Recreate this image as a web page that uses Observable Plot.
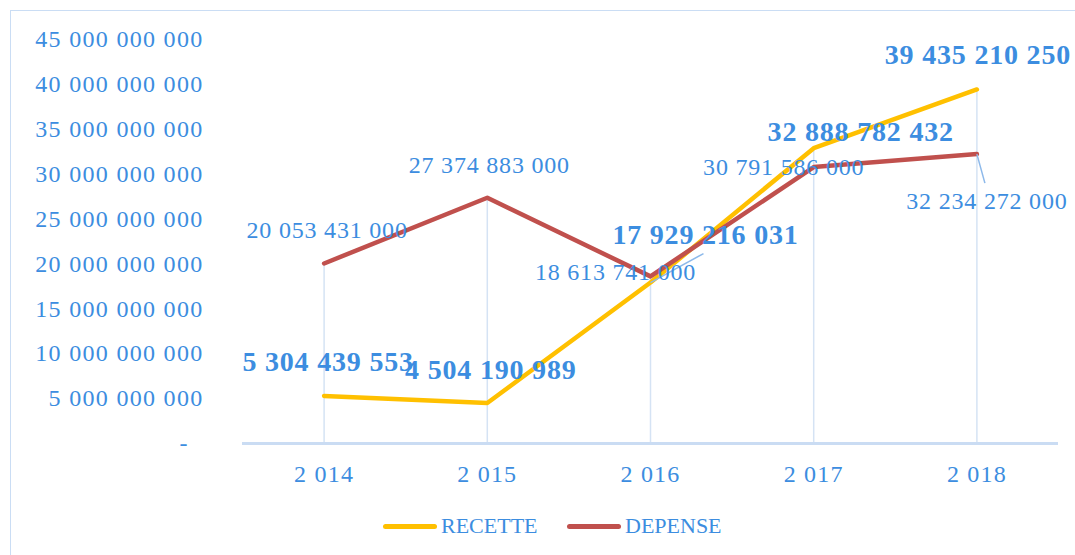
<!DOCTYPE html>
<html>
<head>
<meta charset="utf-8">
<script src="https://cdn.jsdelivr.net/npm/d3@7"></script>
<script src="https://cdn.jsdelivr.net/npm/@observablehq/plot@0.6"></script>
<style>
  html, body { margin: 0; padding: 0; background: #fff; }
  body { width: 1075px; height: 555px; overflow: hidden; position: relative; font-family: "Liberation Serif", serif; }
  #frame { position: absolute; left: 10px; top: 10px; width: 1200px; height: 700px; border: 1.5px solid #CADDF4; box-sizing: border-box; }
  #chart { position: absolute; left: 0; top: 0; }
  #legend { position: absolute; left: 0; top: 512px; width: 1075px; height: 28px; }
  .item { position: absolute; top: 0; height: 28px; display: flex; align-items: center; font-size: 22px; color: #3C8DE0; }
  .sw { width: 54px; height: 5px; border-radius: 3px; margin-right: 4px; }
</style>
</head>
<body>
<div id="frame"></div>
<div id="chart"></div>
<div id="legend"></div>
<script>
// ---- data ----
const years = [2014, 2015, 2016, 2017, 2018];
const recette = [5304439553, 4504190989, 17929216031, 32888782432, 39435210250];
const depense = [20053431000, 27374883000, 18613741000, 30791586000, 32234272000];
const seriesNames = ["RECETTE", "DEPENSE"];
const yTicks = [0, 5e9, 10e9, 15e9, 20e9, 25e9, 30e9, 35e9, 40e9, 45e9];

// ---- styles / layout ----
const colors = ["#FFC000", "#C0504D"];
const blue = "#3C8DE0";
const W = 1075, H = 500, mL = 242, mR = 17, mT = 39, mB = 57;
// label offsets in pixels [dx, dy] relative to each point
const recetteOffsets = [[4, -34], [3.5, -33], [55, -48], [47, -16], [1, -34]];
const depenseOffsets = [[3, -33], [2, -32], [-35, -4], [-30, 0], [10, 47]];
// leader lines: series index, year index, end offset in pixels
const leaders = [{s: 0, i: 2, end: [53, -29]}, {s: 1, i: 4, end: [8, 29]}];

const fmt = d3.formatLocale({decimal: ",", thousands: "\u00a0", grouping: [3]}).format(",d");

const rows = [recette, depense].map((vals, s) =>
  years.map((year, i) => ({year, value: vals[i], series: seriesNames[s]})));

const xPerPx = 5 / (W - mL - mR);
const yPerPx = 45e9 / (H - mT - mB);
const leaderRows = leaders.map(l => {
  const d = rows[l.s][l.i];
  return {x1: d.year, y1: d.value, x2: d.year + l.end[0] * xPerPx, y2: d.value - l.end[1] * yPerPx};
});

const labelMarks = [];
[recetteOffsets, depenseOffsets].forEach((offs, s) => {
  rows[s].forEach((d, i) => {
    labelMarks.push(Plot.text([d], {
      x: "year", y: "value", text: r => fmt(r.value),
      dx: offs[i][0], dy: offs[i][1],
      fill: blue,
      fontSize: s === 0 ? 28 : 24,
      fontWeight: s === 0 ? "bold" : "normal"
    }));
  });
});

const chart = Plot.plot({
  width: W, height: H,
  marginLeft: mL, marginRight: mR, marginTop: mT, marginBottom: mB,
  style: {fontFamily: "'Liberation Serif', serif", color: blue, background: "transparent", overflow: "visible"},
  x: {type: "linear", domain: [2013.5, 2018.5]},
  y: {domain: [0, 45e9]},
  marks: [
    Plot.ruleX(years, {x: d => d, y1: 0, y2: (d, i) => Math.max(recette[i], depense[i]), stroke: "#D5E3F4", strokeWidth: 1.5}),
    Plot.ruleY([0], {stroke: "#CADCF3", strokeWidth: 3}),
    Plot.axisY({ticks: yTicks, tickFormat: d => d === 0 ? "-\u00a0\u00a0" : fmt(d), tickSize: 0, tickPadding: 39, fontSize: 24, label: null}),
    Plot.axisX({ticks: years, tickFormat: fmt, tickSize: 0, tickPadding: 21, fontSize: 24, label: null}),
    Plot.line(rows[0], {x: "year", y: "value", stroke: colors[0], strokeWidth: 4.5, strokeLinecap: "round", strokeLinejoin: "round"}),
    Plot.line(rows[1], {x: "year", y: "value", stroke: colors[1], strokeWidth: 4.5, strokeLinecap: "round", strokeLinejoin: "round"}),
    Plot.link(leaderRows, {x1: "x1", y1: "y1", x2: "x2", y2: "y2", stroke: "#8DB9EA", strokeWidth: 1.5}),
    ...labelMarks
  ]
});

d3.select(chart).selectAll('g[aria-label="y-axis tick label"] text').style("letter-spacing", "1.3px");
d3.select(chart).selectAll('g[aria-label="x-axis tick label"] text').style("letter-spacing", "1.2px");
d3.select(chart).selectAll('g[aria-label="text"] text').style("letter-spacing", "0.8px");

document.getElementById("chart").appendChild(chart);

// legend
const legendLefts = [383, 567];
const legend = document.getElementById("legend");
seriesNames.forEach((name, s) => {
  const item = document.createElement("div");
  item.className = "item";
  item.style.left = legendLefts[s] + "px";
  const sw = document.createElement("div");
  sw.className = "sw";
  sw.style.background = colors[s];
  const t = document.createElement("span");
  t.textContent = name;
  item.appendChild(sw);
  item.appendChild(t);
  legend.appendChild(item);
});
</script>
</body>
</html>
